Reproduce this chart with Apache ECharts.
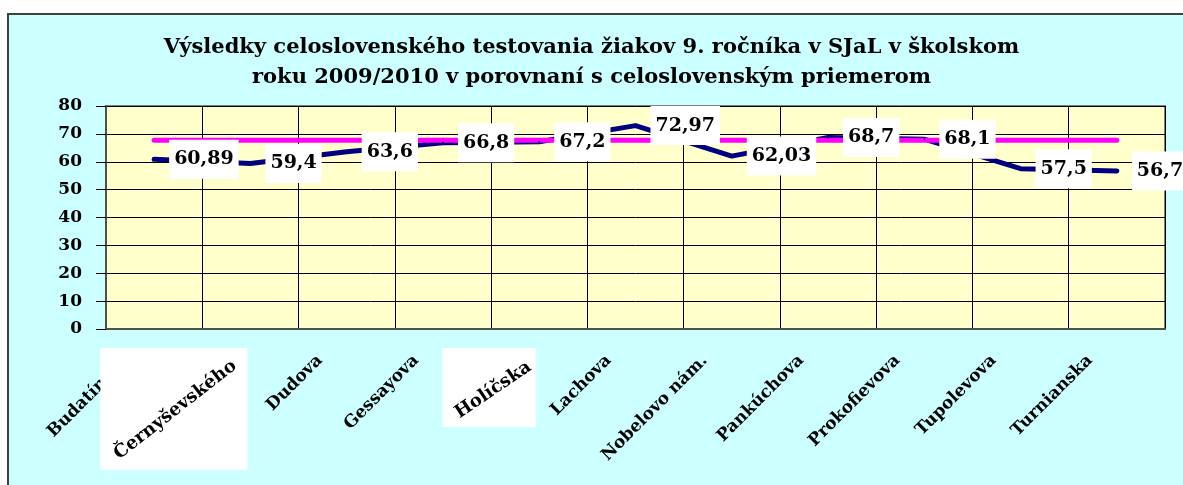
<!DOCTYPE html>
<html>
<head>
<meta charset="utf-8">
<script src="https://cdn.jsdelivr.net/npm/echarts@6/dist/echarts.min.js"></script>
<style>
  html, body { margin: 0; padding: 0; background: #fff; overflow: hidden; }
  .ramik {
    position: absolute; left: 7px; top: 13px; width: 1200px; height: 500px;
    border: 2px solid #404040; background: #ccffff;
  }
  #main { position: absolute; left: 0; top: 0; width: 1183px; height: 485px; }
</style>
</head>
<body>
<div class="ramik"></div>
<div id="main"></div>
<script>
// skoly (ulice) na osi x
var skoly = ["Budatínska", "Černyševského", "Dudova", "Gessayova", "Holíčska", "Lachova",
  "Nobelovo nám.", "Pankúchova", "Prokofievova", "Tupolevova", "Turnianska"];
// vysledky skol v %
var vysledky = [60.89, 59.4, 63.6, 66.8, 67.2, 72.97, 62.03, 68.7, 68.1, 57.5, 56.7];
// celoslovensky priemer
var priemer = [67.7, 67.7, 67.7, 67.7, 67.7, 67.7, 67.7, 67.7, 67.7, 67.7, 67.7];
// os y: min, max, krok
var osY = [0, 80, 10];
// tieto nazvy boli v povodnom grafe vlozene ako obrazky (biely ramik)
var obrazkove = ["Černyševského", "Holíčska"];

var pismo = "DejaVu Serif";

var option = {
  animation: false,
  title: {
    text: "Výsledky celoslovenského testovania žiakov 9. ročníka v SJaL v školskom\nroku 2009/2010 v porovnaní s celoslovenským priemerom",
    left: "center",
    top: 28,
    textStyle: {
      fontFamily: pismo,
      fontWeight: "bold",
      fontSize: 21,
      lineHeight: 30,
      color: "#000",
    },
  },
  grid: {
    left: 106,
    right: 18,
    top: 106,
    bottom: 156,
    show: true,
    backgroundColor: "#ffffcc",
    borderColor: "#808080",
    borderWidth: 2,
  },
  xAxis: {
    type: "category",
    data: skoly,
    boundaryGap: true,
    axisLine: { lineStyle: { color: "#505050", width: 2 } },
    axisTick: { length: 7, lineStyle: { color: "#000" } },
    splitLine: { show: true, lineStyle: { color: "#000", width: 1 } },
    axisLabel: {
      interval: 0,
      rotate: 45,
      margin: 2,
      padding: [0, 38, 0, 0],
      fontFamily: pismo,
      fontWeight: "bold",
      fontSize: 17,
      color: "#000",
      formatter: function (v) {
        return obrazkove.indexOf(v) >= 0 ? "" : v;
      },
    },
  },
  yAxis: {
    type: "value",
    min: osY[0],
    max: osY[1],
    interval: osY[2],
    axisLine: { show: true, lineStyle: { color: "#505050", width: 2 } },
    axisTick: { show: true, length: 10, lineStyle: { color: "#000" } },
    splitLine: { lineStyle: { color: "#000", width: 1 } },
    axisLabel: {
      margin: 24,
      fontFamily: pismo,
      fontWeight: "bold",
      fontSize: 17,
      color: "#000",
    },
  },
  series: [
    {
      name: "škola",
      type: "line",
      data: vysledky,
      symbol: "circle",
      symbolSize: 2,
      lineStyle: { color: "#000080", width: 5, cap: "round", join: "round" },
      itemStyle: { color: "#000080" },
      label: {
        show: true,
        position: "right",
        distance: 14,
        backgroundColor: "#fff",
        padding: [10, 5],
        fontFamily: pismo,
        fontWeight: "bold",
        fontSize: 19,
        color: "#000",
        formatter: function (p) {
          return String(p.value).replace(".", ",");
        },
      },
    },
    {
      name: "celoslovenský priemer",
      type: "line",
      data: priemer,
      symbol: "none",
      lineStyle: { color: "#ff00ff", width: 5, cap: "round" },
    },
  ],
};

var myChart = echarts.init(document.getElementById("main"));
myChart.setOption(option);

// biele ramiky s nazvami, ako v povodnom grafe
var y0 = myChart.convertToPixel({ yAxisIndex: 0 }, osY[0]);
var ramiky = [
  { vlavo: 150, sirka: 147, vyska: 122, tx: 75, ty: 81, uhol: 38 },
  { vlavo: 97, sirka: 94, vyska: 79, tx: 46, ty: 61, uhol: 34 },
];
var graphic = [];
obrazkove.forEach(function (nazov, k) {
  var cx = myChart.convertToPixel({ xAxisIndex: 0 }, skoly.indexOf(nazov));
  var r = ramiky[k];
  graphic.push({
    type: "rect",
    z: 100,
    shape: { x: cx - r.vlavo, y: y0 + 19, width: r.sirka, height: r.vyska },
    style: { fill: "#fff" },
  });
  graphic.push({
    type: "text",
    z: 101,
    x: cx - r.tx,
    y: y0 + r.ty,
    rotation: (r.uhol * Math.PI) / 180,
    style: {
      text: nazov,
      font: "bold 18px " + pismo,
      fill: "#000",
      align: "center",
      verticalAlign: "middle",
    },
  });
});
myChart.setOption({ graphic: graphic });
</script>
</body>
</html>
